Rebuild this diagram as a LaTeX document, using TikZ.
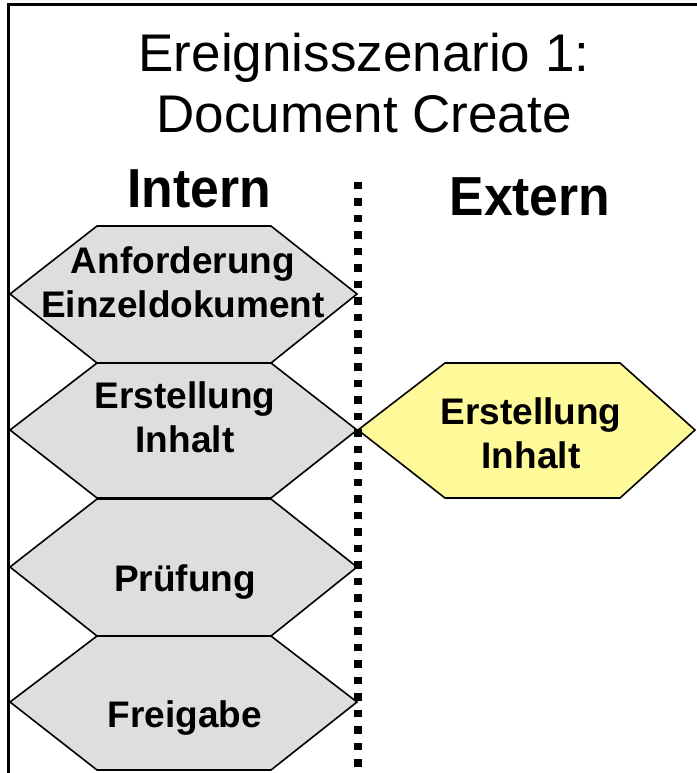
\documentclass[tikz,border=0pt]{standalone}
\usepackage{fontspec}
\setmainfont{Liberation Sans}
\newfontfamily\headfont[FakeStretch=0.94]{Liberation Sans}
\begin{document}
\begin{tikzpicture}[x=1pt,y=-1pt,
  frameline/.style={line width=3pt,black},
  hexgrey/.style={draw=black,line width=1.6pt,fill=black!13,line join=miter},
  hexyellow/.style={draw=black,line width=1.6pt,fill=yellow!40,line join=miter},
  hexlabel/.style={inner sep=0pt,align=center,font=\fontsize{37}{44}\selectfont\bfseries},
  titlelabel/.style={inner sep=0pt,align=center,font=\fontsize{53}{61}\selectfont},
  headlabel/.style={inner sep=0pt,anchor=base,font=\headfont\fontsize{55}{60}\selectfont\bfseries},
  divider/.style={line width=7.5pt,dash pattern=on 7.5pt off 9pt,line cap=butt}
]
% canvas
\fill[white] (0,0) rectangle (696,773);
\useasboundingbox (0,0) rectangle (696,773);

% outer frame (top and left edges)
\coordinate (ftl) at (8.5,4.5);
\coordinate (ftr) at (697,4.5);
\coordinate (fbl) at (8.5,774);
\draw[frameline] (ftr) -- (ftl) -- (fbl);

% title and column headings
\node[titlelabel] (title) at (364,83) {Ereignisszenario 1:\\Document Create};
\node[headlabel] (intern) at (199,207) {Intern};
\node[headlabel] (extern) at (530,215) {Extern};

% internal process steps
\draw[hexgrey] (10,294) -- (97,226) -- (271,226) -- (357,294) -- (271,363) -- (97,363) -- cycle;
\draw[hexgrey] (10,430) -- (97,363) -- (271,363) -- (357,430) -- (271,498) -- (97,498) -- cycle;
\draw[hexgrey] (10,567) -- (97,499) -- (271,499) -- (357,567) -- (271,636) -- (97,636) -- cycle;
\draw[hexgrey] (10,702) -- (97,636) -- (271,636) -- (357,702) -- (271,770) -- (97,770) -- cycle;

% external process step
\draw[hexyellow] (358,430) -- (445,363) -- (620,363) -- (695,430) -- (620,498) -- (445,498) -- cycle;

% step labels
\node[hexlabel] (anf) at (183,282) {Anforderung\\Einzeldokument};
\node[hexlabel] (erstint) at (185,417) {Erstellung\\Inhalt};
\node[hexlabel,anchor=base] (pruef) at (185,591) {Prüfung};
\node[hexlabel,anchor=base] (freig) at (185,727) {Freigabe};
\node[hexlabel] (erstext) at (531,433) {Erstellung\\Inhalt};

% boundary between internal and external
\coordinate (dtop) at (358,181.5);
\coordinate (dbot) at (358,773);
\draw[divider] (dtop) -- (dbot);
\end{tikzpicture}
\end{document}
